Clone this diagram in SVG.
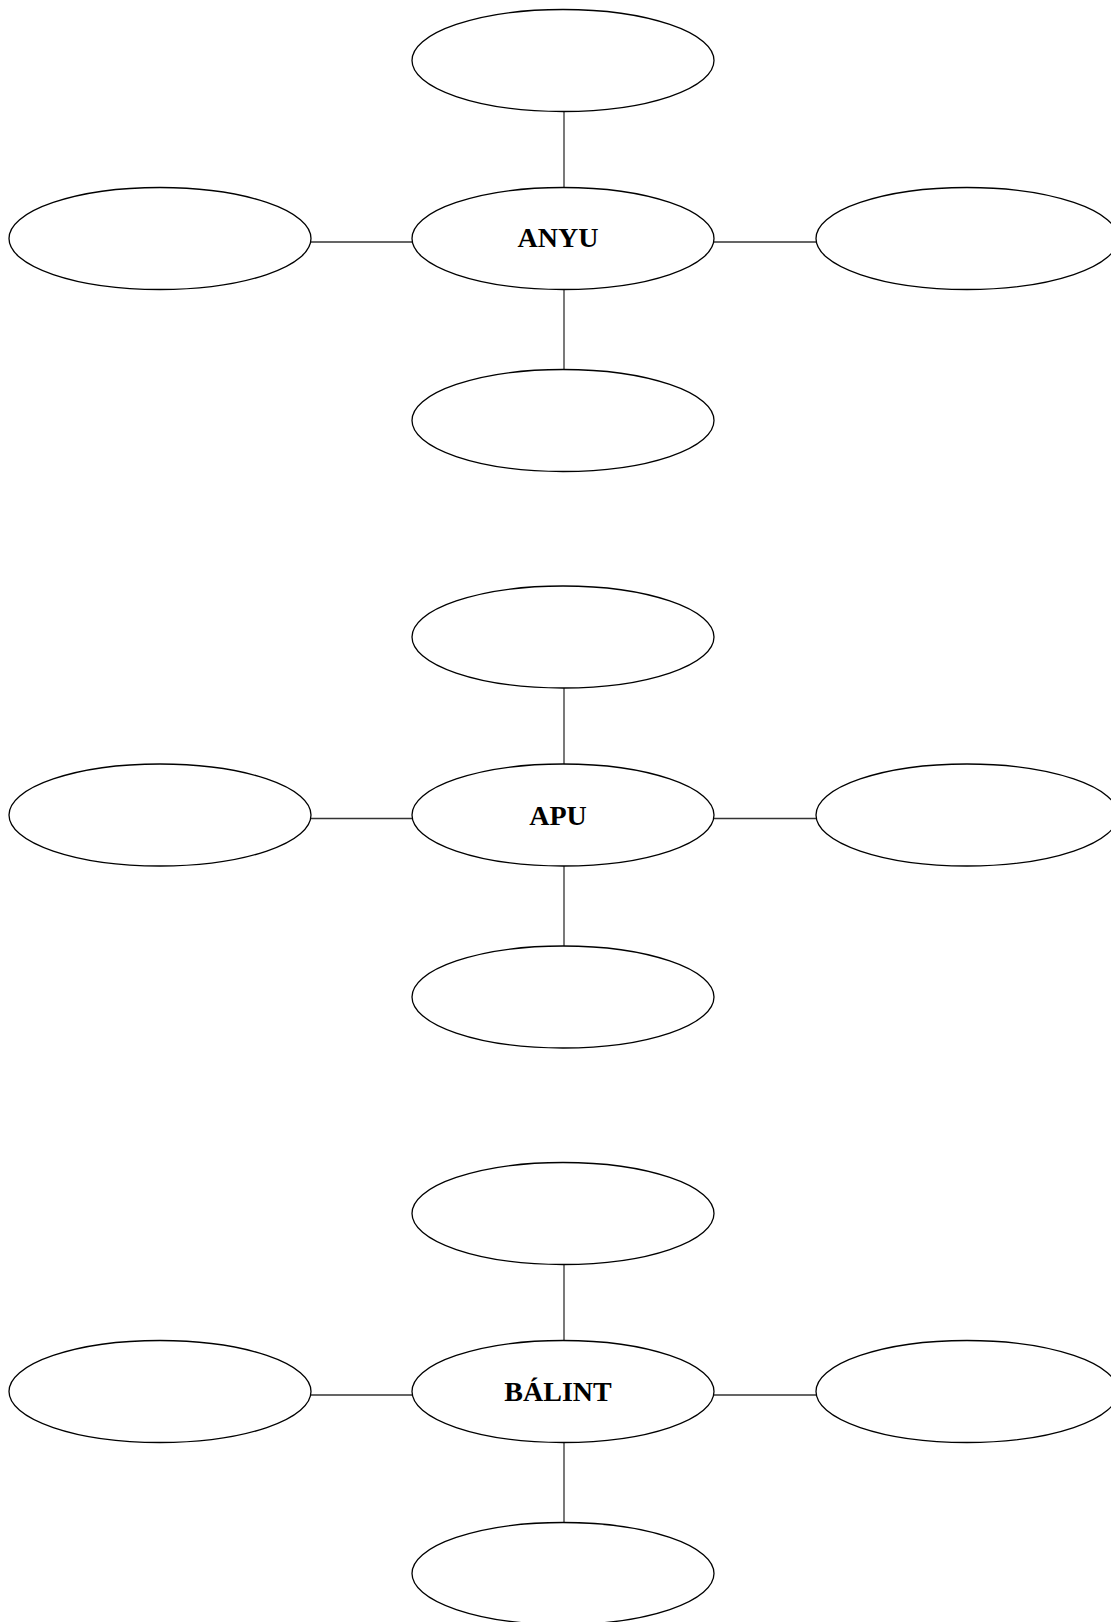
<svg xmlns="http://www.w3.org/2000/svg" width="1111" height="1622" viewBox="0 0 1111 1622">
<style>
.n{fill:#fff;stroke:#000;stroke-width:1.3}
.c{stroke:#333;stroke-width:1.3;fill:none}
.t{font-family:"Liberation Serif","Times New Roman",serif;font-weight:bold;font-size:28px;fill:#000;text-anchor:middle}
</style>
<rect width="1111" height="1622" fill="#fff"/>
<g id="connectors">
<path class="c" d="M564 111.5V187.5M564 289.5V369.5M311 242H412M714 242H816"/>
<path class="c" d="M564 688V764M564 866V946M311 818.5H412M714 818.5H816"/>
<path class="c" d="M564 1264.5V1340.5M564 1442.5V1522.5M311 1395H412M714 1395H816"/>
</g>
<g id="anyu-top"><ellipse class="n" cx="563" cy="60.5" rx="151" ry="51"/></g>
<g id="anyu-left"><ellipse class="n" cx="160" cy="238.5" rx="151" ry="51"/></g>
<g id="anyu"><ellipse class="n" cx="563" cy="238.5" rx="151" ry="51"/><text class="t" x="558" y="247">ANYU</text></g>
<g id="anyu-right"><ellipse class="n" cx="967" cy="238.5" rx="151" ry="51"/></g>
<g id="anyu-bottom"><ellipse class="n" cx="563" cy="420.5" rx="151" ry="51"/></g>
<g id="apu-top"><ellipse class="n" cx="563" cy="637" rx="151" ry="51"/></g>
<g id="apu-left"><ellipse class="n" cx="160" cy="815" rx="151" ry="51"/></g>
<g id="apu"><ellipse class="n" cx="563" cy="815" rx="151" ry="51"/><text class="t" x="558" y="824.5">APU</text></g>
<g id="apu-right"><ellipse class="n" cx="967" cy="815" rx="151" ry="51"/></g>
<g id="apu-bottom"><ellipse class="n" cx="563" cy="997" rx="151" ry="51"/></g>
<g id="balint-top"><ellipse class="n" cx="563" cy="1213.5" rx="151" ry="51"/></g>
<g id="balint-left"><ellipse class="n" cx="160" cy="1391.5" rx="151" ry="51"/></g>
<g id="balint"><ellipse class="n" cx="563" cy="1391.5" rx="151" ry="51"/><text class="t" x="558" y="1400.5">BÁLINT</text></g>
<g id="balint-right"><ellipse class="n" cx="967" cy="1391.5" rx="151" ry="51"/></g>
<g id="balint-bottom"><ellipse class="n" cx="563" cy="1573.5" rx="151" ry="51"/></g>
</svg>
